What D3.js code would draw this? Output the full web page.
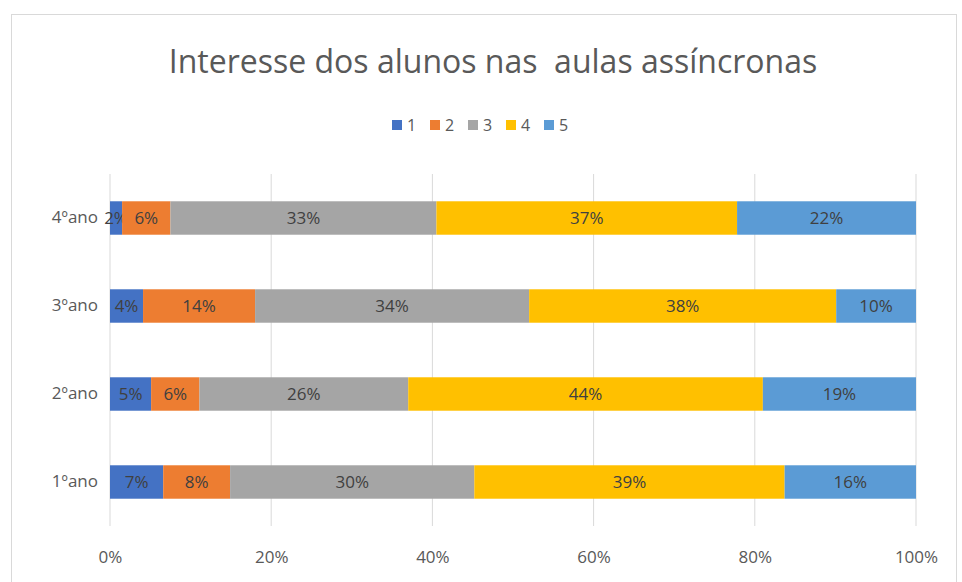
<!DOCTYPE html>
<html>
<head>
<meta charset="utf-8">
<script src="https://cdn.jsdelivr.net/npm/d3@7"></script>
<style>
  body { margin: 0; background: #fff; }
  text { font-family: "Open Sans", Lato, sans-serif; }
</style>
</head>
<body>
<div id="chart"></div>
<script>
// years, bottom to top as in the picture
var categories = ["1ºano", "2ºano", "3ºano", "4ºano"];
var seriesNames = ["1", "2", "3", "4", "5"];
// percent of each answer per year
var s1 = [6.6, 5.1, 4.1, 1.5];
var s2 = [8.3, 6.0, 13.9, 6.0];
var s3 = [30.3, 25.9, 34.0, 33.0];
var s4 = [38.5, 44.0, 38.1, 37.3];
var s5 = [16.3, 19.0, 9.9, 22.2];
var ticks = [0, 20, 40, 60, 80, 100];
var colors = ["#4472C4", "#ED7D31", "#A5A5A5", "#FFC000", "#5B9BD5"];

var width = 962, height = 582;
var margin = {top: 174, right: 46, bottom: 56, left: 110};

var svg = d3.select("#chart").append("svg")
  .attr("width", width)
  .attr("height", height);

// outer frame
svg.append("rect")
  .attr("x", 11.5).attr("y", 14.5)
  .attr("width", 945).attr("height", 572)
  .attr("fill", "#fff")
  .attr("stroke", "#d9d9d9");

svg.append("text")
  .attr("x", 493).attr("y", 73)
  .attr("text-anchor", "middle")
  .style("font-size", "32px")
  .style("white-space", "pre")
  .style("fill", "#595959")
  .text("Interesse dos alunos nas  aulas assíncronas");

var rows = categories.map(function(c, i) {
  return {cat: c, "1": s1[i], "2": s2[i], "3": s3[i], "4": s4[i], "5": s5[i]};
});
var stacked = d3.stack().keys(seriesNames)(rows);

var x = d3.scaleLinear().domain([0, 100]).range([margin.left, width - margin.right]);
var y = d3.scaleBand()
  .domain(categories.slice().reverse())
  .range([margin.top, height - margin.bottom])
  .paddingInner(0.62).paddingOuter(0.31);

var g = svg.append("g");

// grid
g.selectAll(".grid")
  .data(ticks)
  .enter().append("line")
  .attr("x1", function(d) { return x(d); })
  .attr("x2", function(d) { return x(d); })
  .attr("y1", margin.top)
  .attr("y2", height - margin.bottom)
  .attr("stroke", "#d9d9d9");

var layers = g.selectAll(".layer")
  .data(stacked)
  .enter().append("g")
  .attr("fill", function(d, i) { return colors[i]; });

layers.selectAll("rect")
  .data(function(d) { return d; })
  .enter().append("rect")
  .attr("x", function(d) { return x(d[0]); })
  .attr("width", function(d) { return x(d[1]) - x(d[0]); })
  .attr("y", function(d) { return y(d.data.cat); })
  .attr("height", y.bandwidth());

layers.selectAll("text")
  .data(function(d) { return d; })
  .enter().append("text")
  .attr("x", function(d) { return (x(d[0]) + x(d[1])) / 2; })
  .attr("y", function(d) { return y(d.data.cat) + y.bandwidth() / 2 + 6; })
  .attr("text-anchor", "middle")
  .style("font-size", "17px")
  .style("fill", "#404040")
  .text(function(d) { return Math.round(d[1] - d[0]) + "%"; });

// x axis labels
var xAxis = svg.append("g")
  .attr("transform", "translate(0," + (height - margin.bottom) + ")")
  .call(d3.axisBottom(x).tickValues(ticks).tickSize(0).tickPadding(25)
    .tickFormat(function(d) { return d + "%"; }));
xAxis.select(".domain").remove();
xAxis.selectAll("text").style("font-size", "17px").style("fill", "#595959")
  .style("font-family", "'Open Sans', sans-serif");

// y axis labels
var yAxis = svg.append("g")
  .attr("transform", "translate(" + margin.left + ",0)")
  .call(d3.axisLeft(y).tickSize(0).tickPadding(12));
yAxis.select(".domain").remove();
yAxis.selectAll("text").style("font-size", "17px").style("fill", "#595959")
  .style("font-family", "'Open Sans', sans-serif");

// legend
var legend = svg.append("g").attr("transform", "translate(392,125)");
var item = legend.selectAll(".leg")
  .data(seriesNames)
  .enter().append("g")
  .attr("transform", function(d, i) { return "translate(" + (i * 38) + ",0)"; });
item.append("rect")
  .attr("x", 0).attr("y", -5)
  .attr("width", 10).attr("height", 10)
  .attr("fill", function(d, i) { return colors[i]; });
item.append("text")
  .attr("x", 15).attr("y", 6)
  .style("font-size", "16px")
  .style("fill", "#595959")
  .text(function(d) { return d; });
</script>
</body>
</html>
